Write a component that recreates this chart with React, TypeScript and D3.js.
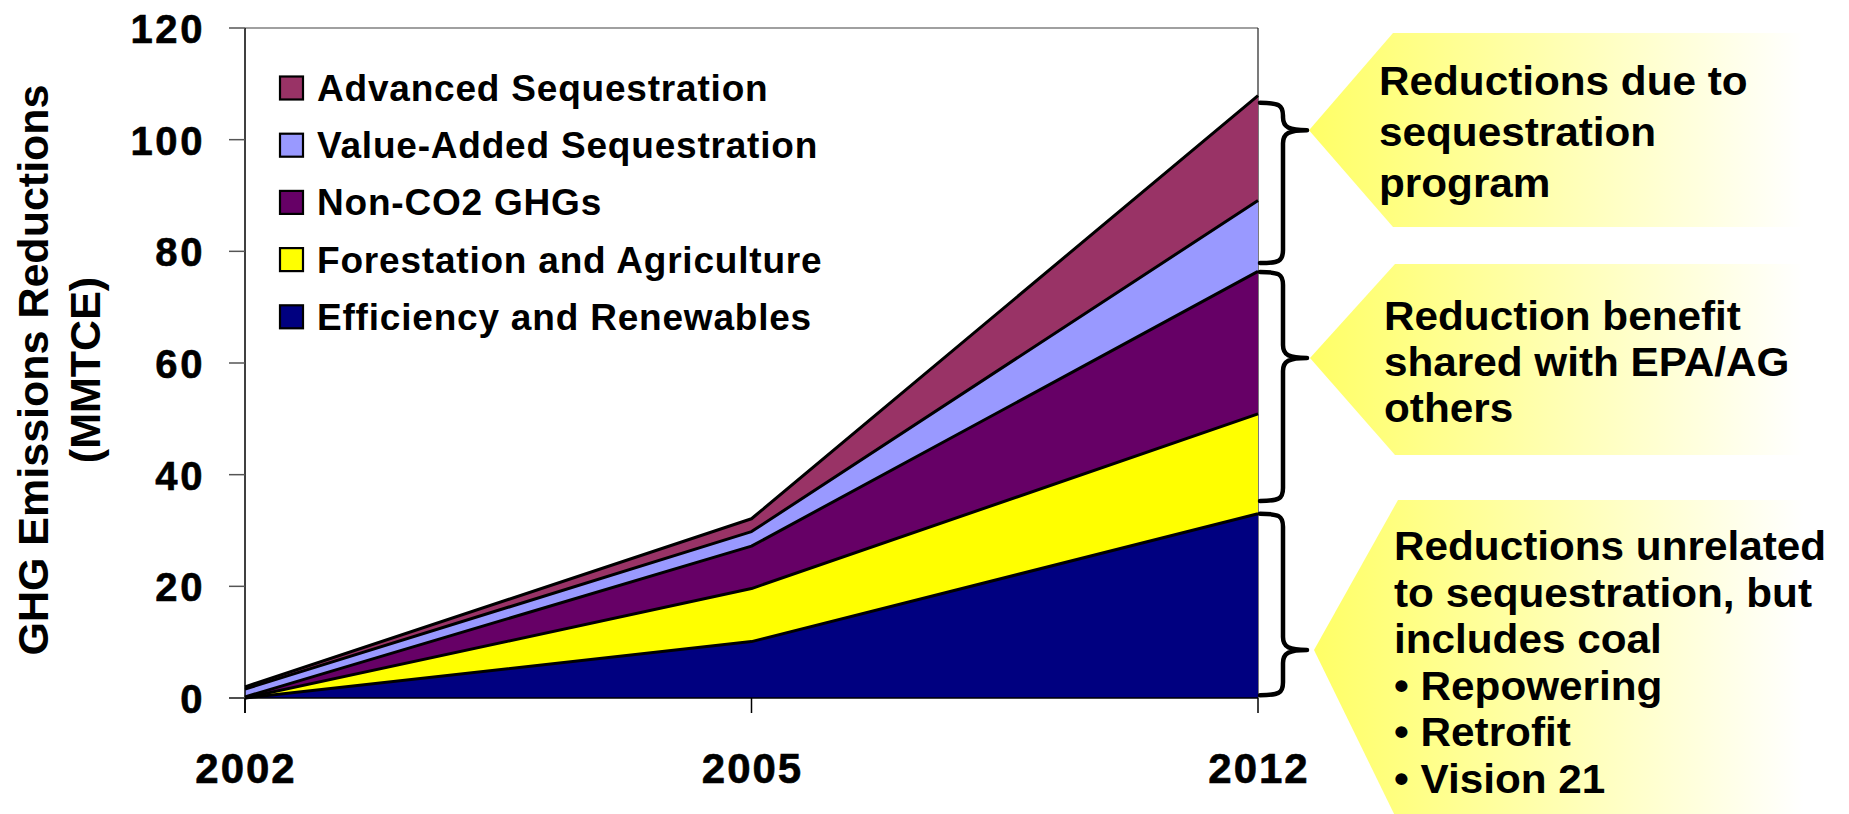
import React from "react";
import * as d3 from "d3";

// Category axis and series values (MMTCE)
const years = ["2002", "2005", "2012"];
const efficiencyRenewables = [0, 10.1, 33.0];
const forestationAgriculture = [0, 9.5, 17.9];
const nonCO2GHGs = [0.2, 7.6, 25.5];
const valueAddedSequestration = [1.4, 2.6, 12.7];
const advancedSequestration = [0.4, 2.3, 18.8];

const seriesKeys = ["eff", "forest", "nonco2", "valueAdded", "advanced"];
const seriesLabels = [
  "Efficiency and Renewables",
  "Forestation and Agriculture",
  "Non-CO2 GHGs",
  "Value-Added Sequestration",
  "Advanced Sequestration",
];
const seriesColors = ["#000080", "#FFFF00", "#660066", "#9999FF", "#993366"];

const yTicks = [0, 20, 40, 60, 80, 100, 120];

// Brace spans at 2012 (value units): [bottom, top, tip]
const braceBottoms = [77.9, 35.3, 0.5];
const braceTops = [106.6, 76.3, 33.0];
const braceTips = [101.7, 60.9, 8.6];

const calloutLines = [
  ["Reductions due to", "sequestration", "program"],
  ["Reduction benefit", "shared with EPA/AG", "others"],
  [
    "Reductions unrelated",
    "to sequestration, but",
    "includes coal",
    "\u2022 Repowering",
    "\u2022 Retrofit",
    "\u2022 Vision 21",
  ],
];

const W = 1849;
const H = 814;
const FONT = "'Liberation Sans', Arial, Helvetica, sans-serif";

export default function App() {
  const x = d3.scalePoint<string>().domain(years).range([245, 1258]);
  const y = d3.scaleLinear().domain([0, 120]).range([698, 28]);

  const rows = years.map((yr, i) => ({
    year: yr,
    eff: efficiencyRenewables[i],
    forest: forestationAgriculture[i],
    nonco2: nonCO2GHGs[i],
    valueAdded: valueAddedSequestration[i],
    advanced: advancedSequestration[i],
  }));
  const stacked = d3.stack<any>().keys(seriesKeys)(rows);

  const area = d3
    .area<any>()
    .x((d) => x(d.data.year) as number)
    .y0((d) => y(d[0]))
    .y1((d) => y(d[1]));
  const topLine = d3
    .line<any>()
    .x((d) => x(d.data.year) as number)
    .y((d) => y(d[1]));

  const x0 = x(years[0]) as number;
  const x1 = x(years[years.length - 1]) as number;

  // curly brace path
  const bracePath = (top: number, bot: number, tip: number) => {
    const ex = x1 + 2;
    const sx = 1283;
    const tx = 1307;
    const r = 13;
    return [
      `M${ex},${top}`,
      `C${sx - 4},${top} ${sx},${top + 2} ${sx},${top + r}`,
      `L${sx},${tip - r}`,
      `C${sx},${tip - 3} ${sx + 6},${tip} ${tx},${tip}`,
      `C${sx + 6},${tip} ${sx},${tip + 3} ${sx},${tip + r}`,
      `L${sx},${bot - r}`,
      `C${sx},${bot - 2} ${sx - 4},${bot} ${ex},${bot}`,
    ].join(" ");
  };

  // callout box geometry
  const callouts = [
    { tipX: 1309, top: 33, bottom: 227, cornerX: 1393, textX: 1379, base: 95, step: 51 },
    { tipX: 1310, top: 264, bottom: 455, cornerX: 1395, textX: 1384, base: 330, step: 46 },
    { tipX: 1314, top: 500, bottom: 822, cornerX: 1398, textX: 1394, base: 560, step: 46.6 },
  ];
  const rightX = 1830;

  return (
    <svg
      width={W}
      height={H}
      style={{ position: "absolute", left: 0, top: 0, background: "#fff" }}
      fontFamily={FONT}
    >
      <defs>
        <linearGradient id="calloutFill" x1="0" y1="0" x2="1" y2="0">
          <stop offset="0" stopColor="#FFFF66" />
          <stop offset="0.95" stopColor="#FFFFFF" />
          <stop offset="1" stopColor="#FFFFFF" />
        </linearGradient>
      </defs>

      {/* plot frame */}
      <line x1={x0} x2={x1} y1={y(120)} y2={y(120)} stroke="#808080" strokeWidth={1.5} />
      <line x1={x1} x2={x1} y1={y(120)} y2={y(0)} stroke="#222" strokeWidth={1.2} />

      {/* stacked areas */}
      {stacked.map((s, i) => (
        <path key={s.key} d={area(s) as string} fill={seriesColors[i]} />
      ))}
      {stacked.map((s) => (
        <path
          key={s.key + "-edge"}
          d={topLine(s) as string}
          fill="none"
          stroke="#000"
          strokeWidth={3}
          strokeLinejoin="round"
        />
      ))}

      {/* axes */}
      <line x1={x0} x2={x0} y1={y(120)} y2={y(0) + 15} stroke="#000" strokeWidth={1.5} />
      <line x1={x0 - 16} x2={x1} y1={y(0)} y2={y(0)} stroke="#000" strokeWidth={1.5} />
      {yTicks.map((t) => (
        <g key={"yt" + t}>
          <line x1={x0 - 16} x2={x0} y1={y(t)} y2={y(t)} stroke="#555" strokeWidth={1.5} />
          <text
            x={205}
            y={y(t) + 15}
            textAnchor="end"
            fontSize={40}
            fontWeight="bold"
            letterSpacing={2.6}
            stroke="#000"
            strokeWidth={0.6}
          >
            {t}
          </text>
        </g>
      ))}
      {years.map((yr) => (
        <g key={"xt" + yr}>
          <line
            x1={x(yr) as number}
            x2={x(yr) as number}
            y1={y(0)}
            y2={y(0) + 15}
            stroke="#000"
            strokeWidth={1.5}
          />
          <text
            x={(x(yr) as number) + 1}
            y={783}
            textAnchor="middle"
            fontSize={42}
            fontWeight="bold"
            letterSpacing={2}
            stroke="#000"
            strokeWidth={0.6}
          >
            {yr}
          </text>
        </g>
      ))}

      {/* y-axis title */}
      <text
        transform="translate(48,370) rotate(-90)"
        textAnchor="middle"
        fontSize={43}
        fontWeight="bold"
      >
        GHG Emissions Reductions
      </text>
      <text
        transform="translate(100,370) rotate(-90)"
        textAnchor="middle"
        fontSize={43}
        fontWeight="bold"
      >
        (MMTCE)
      </text>

      {/* legend, top series first */}
      {seriesLabels
        .map((label, i) => ({ label, color: seriesColors[i] }))
        .reverse()
        .map((d, j) => {
          const cy = 88 + j * 57.2;
          return (
            <g key={d.label}>
              <rect
                x={280}
                y={cy - 11.5}
                width={23}
                height={23}
                fill={d.color}
                stroke="#000"
                strokeWidth={2.2}
              />
              <text
                x={317}
                y={cy + 13}
                fontSize={37}
                fontWeight="bold"
                letterSpacing={0.8}
              >
                {d.label}
              </text>
            </g>
          );
        })}

      {/* callouts */}
      {callouts.map((c, i) => {
        const tipY = y(braceTips[i]);
        const pts = [
          [c.tipX, tipY],
          [c.cornerX, c.top],
          [rightX, c.top],
          [rightX, c.bottom],
          [c.cornerX, c.bottom],
        ];
        return (
          <g key={"co" + i}>
            <polygon points={pts.map((p) => p.join(",")).join(" ")} fill="url(#calloutFill)" />
            {calloutLines[i].map((ln, k) => (
              <text
                key={k}
                transform={`translate(${c.textX},${c.base + k * c.step}) scale(1.057,1)`}
                fontSize={40}
                fontWeight="bold"
              >
                {ln}
              </text>
            ))}
          </g>
        );
      })}

      {/* braces */}
      {braceTops.map((t, i) => (
        <path
          key={"br" + i}
          d={bracePath(y(t), y(braceBottoms[i]), y(braceTips[i]))}
          fill="none"
          stroke="#000"
          strokeWidth={4.5}
          strokeLinecap="round"
          strokeLinejoin="round"
        />
      ))}
    </svg>
  );
}
